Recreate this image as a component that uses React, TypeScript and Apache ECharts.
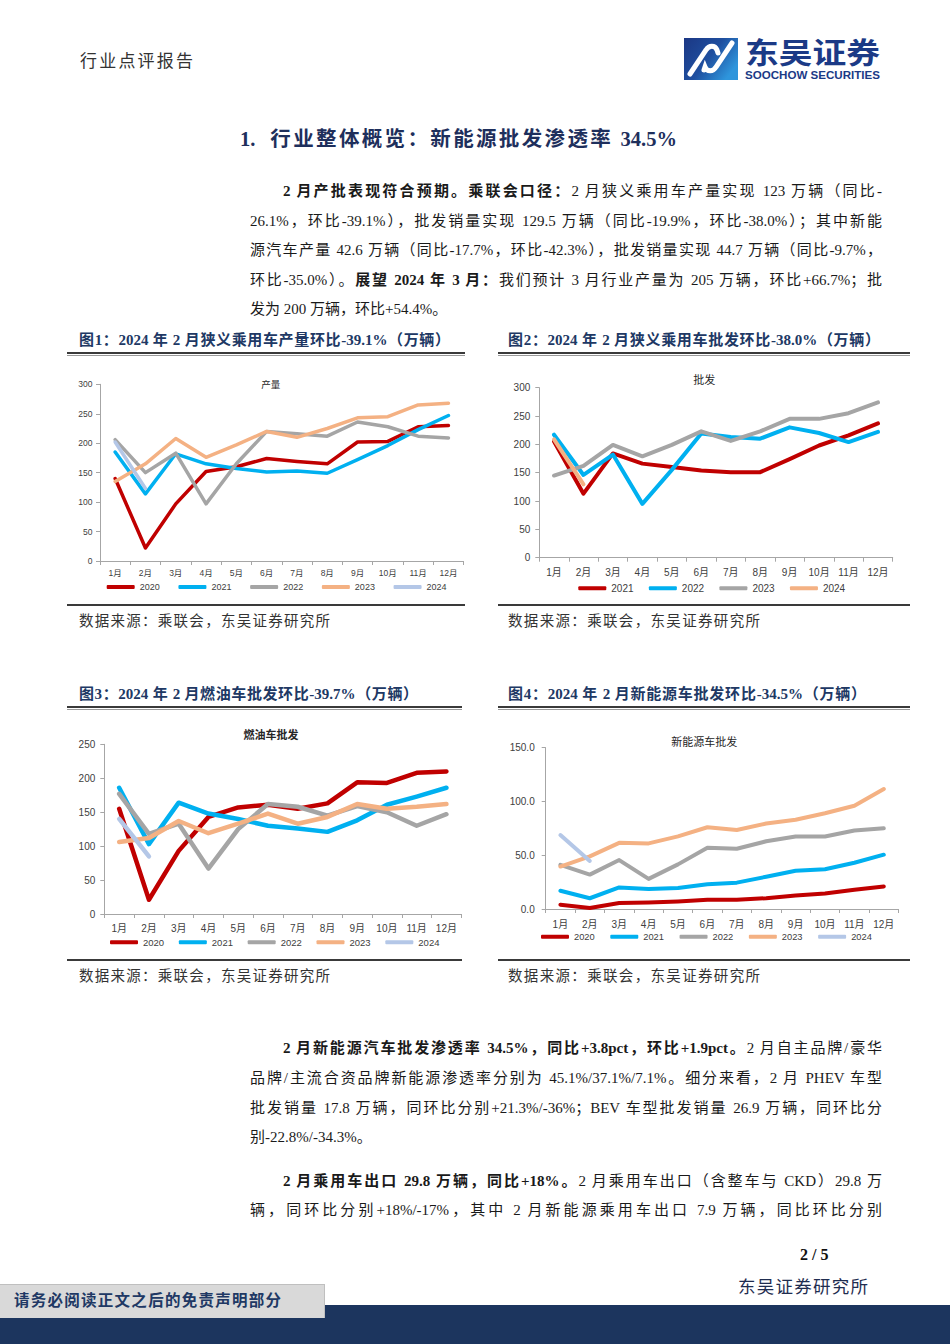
import React, { useEffect, useRef } from 'react';
import * as echarts from 'echarts';

// ---------- data ----------
const months = ['1月', '2月', '3月', '4月', '5月', '6月', '7月', '8月', '9月', '10月', '11月', '12月'];

// 图1 产量
const prod2020 = [140, 22, 97, 152, 160, 174, 169, 165, 202, 203, 228, 230];
const prod2021 = [185, 114, 182, 165, 157, 151, 153, 149, 172, 196, 223, 247];
const prod2022 = [206, 150, 183, 97, 165, 220, 216, 212, 236, 228, 212, 209];
const prod2023 = [135, 165, 208, 176, 197, 220, 210, 225, 243, 245, 265, 268];
const prod2024 = [202, 123];

// 图2 批发
const whole2021 = [205, 113, 184, 166, 160, 154, 151, 151, 174, 198, 216, 237];
const whole2022 = [217, 146, 182, 95, 155, 219, 213, 210, 230, 220, 204, 222];
const whole2023 = [145, 162, 199, 179, 199, 223, 206, 223, 245, 245, 255, 274];
const whole2024 = [208.9, 129.5];

// 图3 燃油车批发
const fuel2020 = [155, 21, 93, 143, 157, 161, 155, 163, 194, 193, 208, 210];
const fuel2021 = [186, 103, 164, 148, 140, 130, 126, 121, 138, 161, 173, 186];
const fuel2022 = [177, 118, 133, 67, 125, 162, 158, 145, 159, 150, 130, 147];
const fuel2023 = [106, 112, 137, 119, 133, 148, 133, 143, 162, 155, 158, 162];
const fuel2024 = [140.1, 84.8];

// 图4 新能源车批发
const nev2020 = [4, 1, 5.5, 6, 7, 8.5, 8.5, 10, 12.5, 14.5, 18, 21];
const nev2021 = [17, 10, 20, 18.5, 19.5, 23, 24.5, 30, 35.5, 37, 43, 50.5];
const nev2022 = [41, 32, 45.5, 28, 41.5, 57, 56, 63, 67.5, 67.5, 73, 75];
const nev2023 = [39.5, 49, 61.5, 61, 67.5, 76, 73.5, 79.5, 83, 89, 96, 111.5];
const nev2024 = [68.8, 44.7];

// ---------- styles ----------
const RED = '#c00000';
const CYAN = '#00b0f0';
const GRAY = '#a5a5a5';
const PEACH = '#f4b183';
const LAV = '#b4c7e7';

const SANS = "'Liberation Sans','Noto Sans CJK SC',sans-serif";
const SERIF = "'Liberation Serif','Noto Sans CJK SC',serif";
const NAVY = '#203864';

function makeOption(p: any) {
  return {
    animation: false,
    grid: { left: p.grid[0], top: p.grid[1], width: p.grid[2], height: p.grid[3] },
    graphic: [
      {
        type: 'text',
        x: p.title[1],
        y: p.title[2],
        style: {
          text: p.title[0],
          fill: '#262626',
          fontSize: p.title[3],
          fontWeight: p.title[4] || 'normal',
          fontFamily: SANS,
          align: 'center',
          verticalAlign: 'middle',
        },
      },
    ],
    legend: {
      left: p.leg[0],
      top: p.leg[1],
      itemGap: p.leg[2],
      padding: 0,
      icon: 'roundRect',
      itemWidth: 28,
      itemHeight: 4,
      itemStyle: { borderWidth: 0 },
      selectedMode: false,
      textStyle: { fontSize: p.leg[3], color: '#404040', fontFamily: SANS, padding: [0, 0, 0, 0] },
      data: p.series.map((s: any) => s.name),
    },
    xAxis: {
      type: 'category',
      data: months,
      boundaryGap: true,
      axisLine: { lineStyle: { color: '#a6a6a6', width: 1 } },
      axisTick: { show: true, length: 4, lineStyle: { color: '#a6a6a6' } },
      axisLabel: { fontSize: p.fs, color: '#404040', margin: p.xMargin, interval: 0, fontFamily: SANS },
    },
    yAxis: {
      type: 'value',
      min: 0,
      max: p.max,
      interval: 50,
      axisLine: { show: true, lineStyle: { color: '#a6a6a6', width: 1 } },
      axisTick: { show: true, length: 4, lineStyle: { color: '#a6a6a6' } },
      splitLine: { show: false },
      axisLabel: {
        fontSize: p.fs,
        color: '#404040',
        margin: p.yMargin,
        fontFamily: SANS,
        formatter: p.decimal ? (v: number) => v.toFixed(1) : undefined,
      },
    },
    series: p.series.map((s: any) => ({
      type: 'line',
      name: s.name,
      data: s.data,
      symbol: 'none',
      showSymbol: false,
      smooth: false,
      emphasis: { disabled: true },
      itemStyle: { color: s.color },
      lineStyle: { width: p.lw, color: s.color, cap: 'round', join: 'round' },
    })),
  };
}

const opt1 = makeOption({
  grid: [33, 26.3, 363.6, 176.7],
  title: ['产量', 203.7, 26, 9.5],
  leg: [39.7, 224.6, 18.7, 9],
  fs: 8.5,
  xMargin: 8,
  yMargin: 7.5,
  max: 300,
  lw: 3.5,
  series: [
    { name: '2020', data: prod2020, color: RED },
    { name: '2021', data: prod2021, color: CYAN },
    { name: '2022', data: prod2022, color: GRAY },
    { name: '2023', data: prod2023, color: PEACH },
    { name: '2024', data: prod2024, color: LAV },
  ],
});

const opt2 = makeOption({
  grid: [41.3, 29.7, 353.4, 170],
  title: ['批发', 206.3, 22, 11],
  leg: [80.3, 225.3, 15.3, 10],
  fs: 10,
  xMargin: 10,
  yMargin: 9,
  max: 300,
  lw: 4,
  series: [
    { name: '2021', data: whole2021, color: RED },
    { name: '2022', data: whole2022, color: CYAN },
    { name: '2023', data: whole2023, color: GRAY },
    { name: '2024', data: whole2024, color: PEACH },
  ],
});

const opt3 = makeOption({
  grid: [37.3, 32.3, 357, 169.7],
  title: ['燃油车批发', 204, 23, 11, 'bold'],
  leg: [43, 225.6, 14.7, 9.5],
  fs: 10,
  xMargin: 9,
  yMargin: 9,
  max: 250,
  lw: 4.5,
  series: [
    { name: '2020', data: fuel2020, color: RED },
    { name: '2021', data: fuel2021, color: CYAN },
    { name: '2022', data: fuel2022, color: GRAY },
    { name: '2023', data: fuel2023, color: PEACH },
    { name: '2024', data: fuel2024, color: LAV },
  ],
});

const opt4 = makeOption({
  grid: [47.7, 35.7, 352.8, 161.3],
  title: ['新能源车批发', 206.3, 29.7, 11],
  leg: [43, 220.1, 15.6, 9.3],
  fs: 10,
  xMargin: 10,
  yMargin: 11,
  max: 150,
  lw: 4,
  decimal: true,
  series: [
    { name: '2020', data: nev2020, color: RED },
    { name: '2021', data: nev2021, color: CYAN },
    { name: '2022', data: nev2022, color: GRAY },
    { name: '2023', data: nev2023, color: PEACH },
    { name: '2024', data: nev2024, color: LAV },
  ],
});

function EChart({ option, style }: { option: any; style: React.CSSProperties }) {
  const ref = useRef<HTMLDivElement>(null);
  useEffect(() => {
    const chart = echarts.init(ref.current as HTMLDivElement, null, { renderer: 'svg' });
    chart.setOption(option);
    return () => chart.dispose();
  }, []);
  return <div ref={ref} style={{ position: 'absolute', ...style }} />;
}

function Line({
  x, y, w, size = 15, lh = 30, last = false, color = '#1a1a1a', weight = 'normal', family = SERIF, children, ls = 0,
}: any) {
  return (
    <div
      style={{
        position: 'absolute',
        left: x,
        top: y - lh / 2,
        width: w,
        height: lh,
        lineHeight: `${lh}px`,
        fontSize: size,
        fontFamily: family,
        fontWeight: weight,
        color,
        letterSpacing: ls,
        textAlign: 'justify',
        textAlignLast: last ? 'left' : 'justify',
        overflow: 'visible',
      } as React.CSSProperties}
    >
      {children}
    </div>
  );
}

function Rule({ x, y, w, h, c }: any) {
  return <div style={{ position: 'absolute', left: x, top: y, width: w, height: h, background: c }} />;
}

function Logo() {
  // svg origin at page (680, 28)
  return (
    <svg style={{ position: 'absolute', left: 680, top: 28 }} width={210} height={62}>
      <defs>
        <linearGradient id="lg" x1="0" y1="0" x2="1" y2="0.6">
          <stop offset="0" stopColor="#1b3784" />
          <stop offset="0.55" stopColor="#1f4f9f" />
          <stop offset="1" stopColor="#2e95dc" />
        </linearGradient>
      </defs>
      <rect x={4} y={10} width={54} height={42} fill="url(#lg)" />
      <path d="M10,46 L26,22 C29,17 35,17 37,22 L38,25" stroke="#fff" strokeWidth={5} fill="none" strokeLinecap="round" />
      <path d="M24,42 L25,39 C27,44 33,44 36,39 L52,15" stroke="#fff" strokeWidth={5} fill="none" strokeLinecap="round" />
      <text x={65} y={36} fontSize={29} fontWeight="bold" fill="#1b3a86" fontFamily="'Noto Sans CJK SC',sans-serif" textLength={135} lengthAdjust="spacingAndGlyphs">东吴证券</text>
      <text x={65} y={51} fontSize={10} fontWeight="bold" fill="#1b3a86" fontFamily="'Liberation Sans',sans-serif" textLength={135} lengthAdjust="spacingAndGlyphs">SOOCHOW SECURITIES</text>
    </svg>
  );
}

export default function App() {
  const body = '#1a1a1a';
  return (
    <div style={{ position: 'absolute', left: 0, top: 0, width: 950, height: 1344, background: '#fff', overflow: 'hidden', fontFamily: SERIF }}>
      {/* header */}
      <Line x={80} y={62} w={113} size={17} lh={24} color="#333">行业点评报告</Line>
      <Logo />

      {/* section title */}
      <Line x={240} y={139} w={437} size={20.5} lh={28} weight="bold" color="#1e2f5c">1.&nbsp; 行业整体概览：新能源批发渗透率 34.5%</Line>

      {/* paragraph 1 */}
      <Line x={283} y={191} w={599} color={body}><b>2 月产批表现符合预期。乘联会口径：</b>2 月狭义乘用车产量实现 123 万辆（同比-</Line>
      <Line x={250} y={220.5} w={632} color={body}>26.1%，环比-39.1%），批发销量实现 129.5 万辆（同比-19.9%，环比-38.0%）；其中新能</Line>
      <Line x={250} y={250} w={632} color={body}>源汽车产量 42.6 万辆（同比-17.7%，环比-42.3%），批发销量实现 44.7 万辆（同比-9.7%，</Line>
      <Line x={250} y={280} w={632} color={body}>环比-35.0%）。<b>展望 2024 年 3 月：</b>我们预计 3 月行业产量为 205 万辆，环比+66.7%；批</Line>
      <Line x={250} y={309} w={632} color={body} last>发为 200 万辆，环比+54.4%。</Line>

      {/* figure captions row 1 */}
      <Line x={79} y={340} w={371} size={15} lh={22} weight="bold" color={NAVY}>图1：2024 年 2 月狭义乘用车产量环比-39.1%（万辆）</Line>
      <Line x={508} y={340} w={372} size={15} lh={22} weight="bold" color={NAVY}>图2：2024 年 2 月狭义乘用车批发环比-38.0%（万辆）</Line>
      <Rule x={67} y={352} w={398} h={2} c="#3a3a3a" />
      <Rule x={67} y={354.5} w={398} h={1} c="#9a9a9a" />
      <Rule x={498} y={352} w={412} h={2} c="#3a3a3a" />
      <Rule x={498} y={354.5} w={412} h={1} c="#9a9a9a" />

      <EChart option={opt1} style={{ left: 67, top: 358, width: 398, height: 245 }} />
      <EChart option={opt2} style={{ left: 498, top: 358, width: 412, height: 245 }} />

      <Rule x={67} y={603.5} w={398} h={2} c="#3a3a3a" />
      <Rule x={498} y={603.5} w={412} h={2} c="#3a3a3a" />
      <Line x={79} y={621} w={251} size={14.5} lh={22} color="#333">数据来源：乘联会，东吴证券研究所</Line>
      <Line x={508} y={621} w={252} size={14.5} lh={22} color="#333">数据来源：乘联会，东吴证券研究所</Line>

      {/* figure captions row 2 */}
      <Line x={79} y={694} w={339} size={15} lh={22} weight="bold" color={NAVY}>图3：2024 年 2 月燃油车批发环比-39.7%（万辆）</Line>
      <Line x={508} y={694} w={358} size={15} lh={22} weight="bold" color={NAVY}>图4：2024 年 2 月新能源车批发环比-34.5%（万辆）</Line>
      <Rule x={67} y={706} w={395} h={2} c="#3a3a3a" />
      <Rule x={67} y={708.5} w={395} h={1} c="#9a9a9a" />
      <Rule x={498} y={706} w={412} h={2} c="#3a3a3a" />
      <Rule x={498} y={708.5} w={412} h={1} c="#9a9a9a" />

      <EChart option={opt3} style={{ left: 67, top: 712, width: 396, height: 246 }} />
      <EChart option={opt4} style={{ left: 498, top: 712, width: 412, height: 246 }} />

      <Rule x={67} y={958.5} w={395} h={2} c="#3a3a3a" />
      <Rule x={498} y={958.5} w={412} h={2} c="#3a3a3a" />
      <Line x={79} y={976} w={251} size={14.5} lh={22} color="#333">数据来源：乘联会，东吴证券研究所</Line>
      <Line x={508} y={976} w={252} size={14.5} lh={22} color="#333">数据来源：乘联会，东吴证券研究所</Line>

      {/* paragraph 2 */}
      <Line x={283} y={1048} w={599} color={body}><b>2 月新能源汽车批发渗透率 34.5%，同比+3.8pct，环比+1.9pct。</b>2 月自主品牌/豪华</Line>
      <Line x={250} y={1078} w={632} color={body}>品牌/主流合资品牌新能源渗透率分别为 45.1%/37.1%/7.1%。细分来看，2 月 PHEV 车型</Line>
      <Line x={250} y={1108} w={632} color={body}>批发销量 17.8 万辆，同环比分别+21.3%/-36%；BEV 车型批发销量 26.9 万辆，同环比分</Line>
      <Line x={250} y={1137} w={632} color={body} last>别-22.8%/-34.3%。</Line>

      {/* paragraph 3 */}
      <Line x={283} y={1181} w={599} color={body}><b>2 月乘用车出口 29.8 万辆，同比+18%。</b>2 月乘用车出口（含整车与 CKD）29.8 万</Line>
      <Line x={250} y={1210} w={632} color={body}>辆，同环比分别+18%/-17%，其中 2 月新能源乘用车出口 7.9 万辆，同比环比分别</Line>

      {/* footer */}
      <Line x={800} y={1255} w={80} size={16} lh={22} weight="bold" color="#111" last><div style={{ textAlign: 'right' }}>2 / 5</div></Line>
      <Line x={738} y={1287} w={130} size={17.5} lh={24} color="#1f2d50">东吴证券研究所</Line>
      <div style={{ position: 'absolute', left: 0, top: 1305, width: 950, height: 39, background: '#1c355e' }} />
      <div style={{ position: 'absolute', left: 0, top: 1284, width: 325, height: 34, background: '#d9d9d9', borderTop: '1px solid #bfbfbf', borderRight: '1px solid #bfbfbf', boxSizing: 'border-box' }} />
      <Line x={14} y={1301} w={267} size={15.5} lh={24} weight="bold" color={NAVY}>请务必阅读正文之后的免责声明部分</Line>
    </div>
  );
}
